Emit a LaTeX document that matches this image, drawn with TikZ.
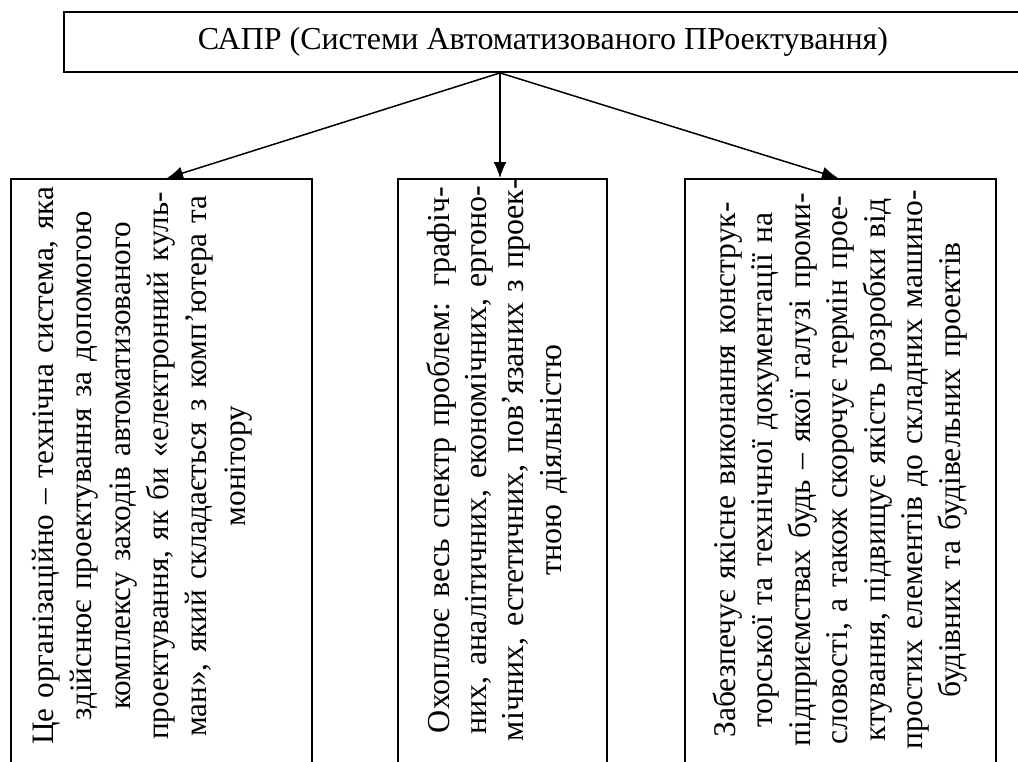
\documentclass[tikz,border=0pt]{standalone}
\usepackage{fontspec}
\setmainfont{Liberation Serif}
\usetikzlibrary{arrows.meta}
\newcommand{\vspacing}[1]{\baselineskip=#1\relax\lineskiplimit=-20pt\relax\lineskip=0pt\relax}
\begin{document}
\begin{tikzpicture}[x=0.5pt,y=-0.5pt,
  frame/.style={draw,line width=0.9pt,rectangle,inner sep=0pt},
  vtext/.style={rotate=90,align=center,text width=300pt,inner sep=0pt},
  link/.style={line width=0.75pt,-{Latex[length=8pt,width=6.5pt]}}]
\useasboundingbox (0,0) rectangle (1018,761);
\clip (0,0) rectangle (1018,761);
% top box
\node[frame,minimum width=479pt,minimum height=30pt,font=\fontsize{16}{20}\selectfont] (top) at (543,42)
  {САПР (Системи Автоматизованого ПРоектування)};
\coordinate (hub) at ([xshift=-21.5pt]top.south);
% lower boxes (open at the bottom of the page)
\node[frame,anchor=north,minimum width=150.5pt,minimum height=306pt] (lbox) at (161.5,178) {};
\node[frame,anchor=north,minimum width=104.5pt,minimum height=306pt] (mbox) at (502.5,178) {};
\node[frame,anchor=north,minimum width=155.5pt,minimum height=306pt] (rbox) at (840.5,178) {};
% texts
\node[vtext,font=\fontsize{15.6}{19.15}\selectfont] (ltext) at (142,466) {\vspacing{19.15pt}Це організаційно – технічна система, яка\\
здійснює проектування за допомогою\\
комплексу заходів автоматизованого\\
проектування, як би «електронний куль-\\
ман», який складається з комп’ютера та\\
монітору};
\node[vtext,font=\fontsize{16}{18.6}\selectfont] (mtext) at (497,460) {\vspacing{18.6pt}Охоплює весь спектр проблем: графіч-\\
них, аналітичних, економічних, ергоно-\\
мічних, естетичних, пов’язаних з проек-\\
тною діяльністю};
\node[vtext,font=\fontsize{15.8}{18.75}\selectfont] (rtext) at (840,470) {\vspacing{18.75pt}Забезпечує якісне виконання конструк-\\
торської та технічної документації на\\
підприємствах будь – якої галузі проми-\\
словості, а також скорочує термін прое-\\
ктування, підвищує якість розробки від\\
простих елементів до складних машино-\\
будівних та будівельних проектів};
% connectors
\draw[link] (hub) -- ([xshift=2.75pt]lbox.north);
\draw[link] (hub) -- ([xshift=-1.25pt]mbox.north);
\draw[link] (hub) -- ([xshift=-1.25pt]rbox.north);
\end{tikzpicture}
\end{document}
